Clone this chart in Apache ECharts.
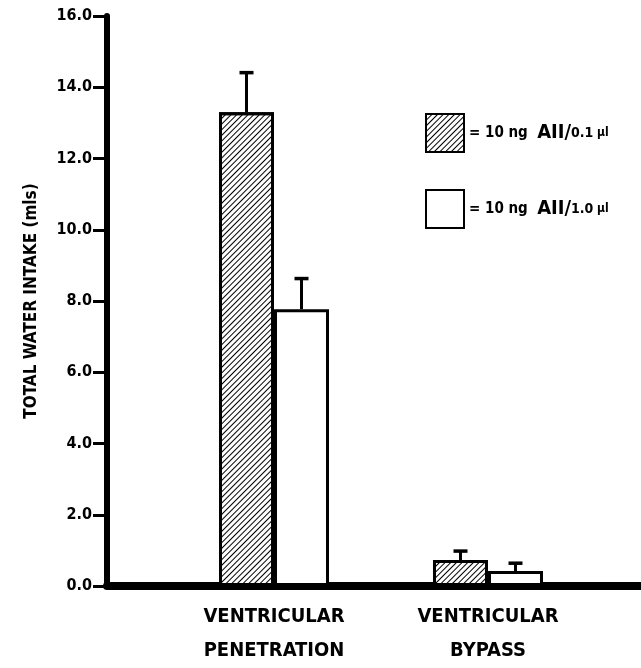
<!DOCTYPE html>
<html><head><meta charset="utf-8">
<script src="https://cdn.jsdelivr.net/npm/echarts@6/dist/echarts.min.js"></script>
<style>html,body{margin:0;padding:0;background:#fff}#c{width:641px;height:668px}</style>
</head><body><div id="c"></div>
<script>
const categories = ['VENTRICULAR\nPENETRATION', 'VENTRICULAR\nBYPASS'];
const catPositions = [1, 2];
const seriesNames = ['= 10 ng AII/0.1 µl', '= 10 ng AII/1.0 µl'];
const mean01 = [13.30, 0.73];
const err01 = [1.11, 0.25];
const mean10 = [7.77, 0.42];
const err10 = [0.86, 0.22];
const yTicks = [0, 2, 4, 6, 8, 10, 12, 14, 16];

const FONT = '"Liberation Sans Narrow", "DejaVu Sans Condensed", "Liberation Sans", sans-serif';
const BAR_W = 55;

function barData(means){ return catPositions.map((x,i)=>[x, means[i]]); }
function errData(means, errs){ return catPositions.map((x,i)=>[x, means[i], means[i]+errs[i]]); }
function errSeries(means, errs, offset){
  return {
    type:'custom', z:5, silent:true,
    data: errData(means, errs),
    renderItem(params, api){
      const x = api.value(0);
      const p0 = api.coord([x, api.value(1)]);
      const p1 = api.coord([x, api.value(2)]);
      const cx = p0[0] + offset;
      return {type:'group', children:[
        {type:'line', shape:{x1:cx, y1:p0[1], x2:cx, y2:p1[1]}, style:{stroke:'#000', lineWidth:3}},
        {type:'line', shape:{x1:cx-7, y1:p1[1], x2:cx+7, y2:p1[1]}, style:{stroke:'#000', lineWidth:3.5}}
      ]};
    }
  };
}

const hatch = {symbol:'rect', symbolSize:1, dashArrayX:[[1,0]], dashArrayY:[1,2.4], rotation:-Math.PI/4, color:'#000'};

const chart = echarts.init(document.getElementById('c'));
chart.setOption({
  animation:false,
  backgroundColor:'#fff',
  grid:{left:107, right:0, top:16, bottom:80},
  legend:{
    orient:'vertical', left:420, top:108, itemWidth:38, itemHeight:38, itemGap:36,
    icon:'rect',
    data: seriesNames,
    formatter: n => { const parts = n.split('AII/'); const num = parts[1].replace(' µl',''); return '{a|' + parts[0] + ' }{b|AII}{b|/}{c|' + num + '}{d| µl}'; },
    textStyle:{
      rich:{
        a:{fontFamily:FONT, fontWeight:'bold', fontSize:15, color:'#000'},
        b:{fontFamily:FONT, fontWeight:'bold', fontSize:20, color:'#000'},
        c:{fontFamily:FONT, fontWeight:'bold', fontSize:14, color:'#000'},
        d:{fontFamily:FONT, fontWeight:'bold', fontSize:12, color:'#000'}
      }
    }
  },
  xAxis:{
    type:'value', min:0.2196, max:2.715,
    splitLine:{show:false},
    axisLine:{show:true, onZero:false, lineStyle:{color:'#000', width:8}},
    axisTick:{show:false},
    axisLabel:{
      customValues: catPositions,
      formatter: v => categories[catPositions.indexOf(Math.round(v))] || '',
      fontFamily:FONT, fontWeight:'bold', fontSize:20, color:'#000', lineHeight:34, margin:14
    }
  },
  yAxis:{
    type:'value', min:0, max:16, interval:2,
    name:'TOTAL WATER INTAKE (mls)', nameLocation:'middle', nameGap:67, nameRotate:90,
    nameTextStyle:{fontFamily:FONT, fontWeight:'bold', fontSize:17, color:'#000'},
    splitLine:{show:false},
    axisLine:{show:true, lineStyle:{color:'#000', width:6}},
    axisTick:{show:true, inside:false, length:14, lineStyle:{color:'#000', width:3}},
    axisLabel:{customValues: yTicks, formatter: v => v.toFixed(1), fontFamily:FONT, fontWeight:'bold', fontSize:16, color:'#000', margin:15}
  },
  series:[
    {name:seriesNames[0], type:'bar', barWidth:BAR_W, barGap:'0%', data:barData(mean01),
     itemStyle:{color:'#fff', borderColor:'#000', borderWidth:3, decal:hatch}},
    {name:seriesNames[1], type:'bar', barWidth:BAR_W, barGap:'0%', data:barData(mean10),
     itemStyle:{color:'#fff', borderColor:'#000', borderWidth:3}},
    errSeries(mean01, err01, -BAR_W/2),
    errSeries(mean10, err10, BAR_W/2)
  ]
});
</script></body></html>
